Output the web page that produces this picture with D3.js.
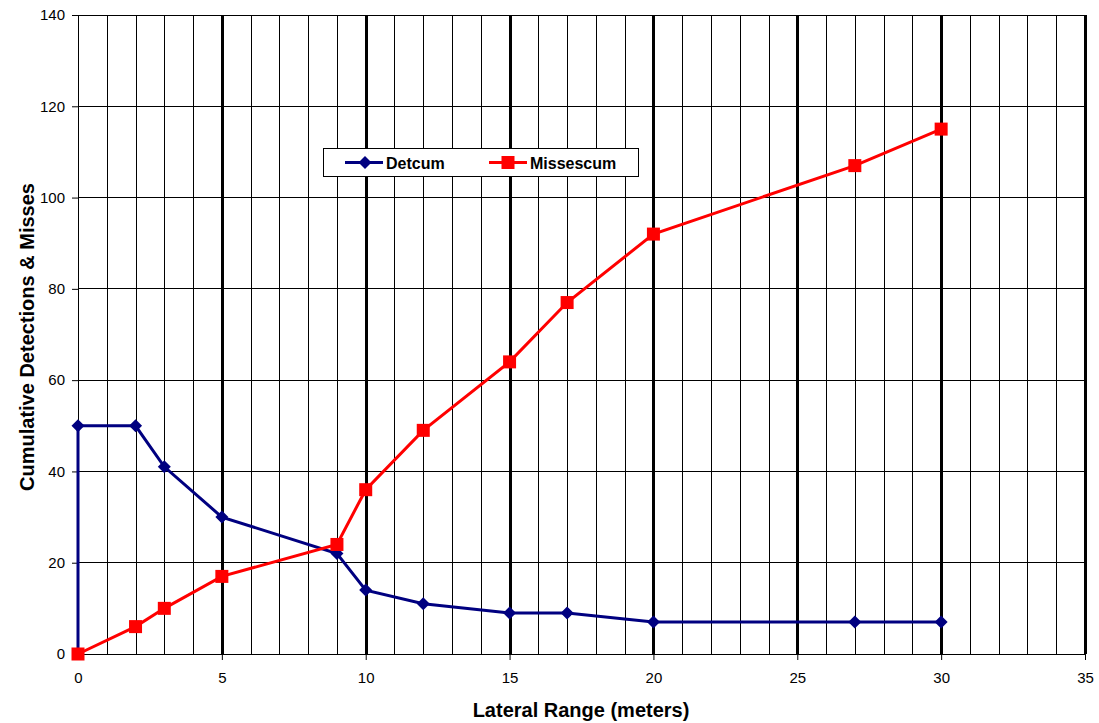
<!DOCTYPE html>
<html><head><meta charset="utf-8">
<script src="https://cdn.jsdelivr.net/npm/d3@7"></script>
<style>body{margin:0;background:#fff}svg{display:block}</style>
</head><body>
<svg id="c" width="1099" height="723"></svg>
<script>
const detX = [0, 0, 2, 3, 5, 9, 10, 12, 15, 17, 20, 27, 30];
const detY = [0, 50, 50, 41, 30, 22, 14, 11, 9, 9, 7, 7, 7];
const detMarker = [false, true, true, true, true, true, true, true, true, true, true, true, true];
const misX = [0, 2, 3, 5, 9, 10, 12, 15, 17, 20, 27, 30];
const misY = [0, 6, 10, 17, 24, 36, 49, 64, 77, 92, 107, 115];
const xTicks = [0, 5, 10, 15, 20, 25, 30, 35];
const yTicks = [0, 20, 40, 60, 80, 100, 120, 140];
const seriesNames = ["Detcum", "Missescum"];

const svg = d3.select("#c");
const L = 78, R = 1085, T = 15, B = 654;
const x = d3.scaleLinear().domain([0, 35]).range([L, R]);
const y = d3.scaleLinear().domain([0, 140]).range([B, T]);
const font = "Arial, 'Liberation Sans', sans-serif";

// horizontal gridlines
svg.append("g").selectAll("line").data(yTicks.filter(d => d > 0)).join("line")
  .attr("x1", L).attr("x2", R).attr("y1", d => y(d)).attr("y2", d => y(d))
  .attr("stroke", "#000").attr("stroke-width", 1).attr("shape-rendering", "crispEdges");
// vertical gridlines
svg.append("g").selectAll("line").data(d3.range(1, 36)).join("line")
  .attr("x1", d => Math.round(x(d)) + 0.5).attr("x2", d => Math.round(x(d)) + 0.5)
  .attr("y1", T).attr("y2", B)
  .attr("stroke", "#000").attr("stroke-width", d => d % 5 === 0 ? 3 : 1);

// axes
const xAxis = svg.append("g").attr("transform", `translate(0,${B})`)
  .call(d3.axisBottom(x).tickValues(xTicks).tickSize(6).tickPadding(12));
const yAxis = svg.append("g").attr("transform", `translate(${L},0)`)
  .call(d3.axisLeft(y).tickValues(yTicks).tickSize(6).tickPadding(7));
[xAxis, yAxis].forEach(a => {
  a.select(".domain").attr("stroke", "#000").attr("stroke-width", 1);
  a.selectAll(".tick line").attr("stroke", "#000");
  a.selectAll("text").attr("font-family", font).attr("font-size", 15).attr("fill", "#000");
});
xAxis.select(".domain").attr("d", `M${L},0.5H${R}`);
yAxis.select(".domain").attr("d", `M0.5,${B}V${T}`);

// axis titles
svg.append("text").attr("x", 581).attr("y", 717).attr("text-anchor", "middle")
  .attr("font-family", font).attr("font-weight", "bold").attr("font-size", 20)
  .text("Lateral Range (meters)");
svg.append("text").attr("transform", `translate(34,337) rotate(-90)`)
  .attr("text-anchor", "middle").attr("font-family", font).attr("font-weight", "bold").attr("font-size", 20)
  .text("Cumulative Detections & Misses");

const line = d3.line().x(d => x(d[0])).y(d => y(d[1]));
const det = detX.map((v, i) => [v, detY[i], detMarker[i]]);
const mis = misX.map((v, i) => [v, misY[i]]);
const blue = "#000080", red = "#ff0000";

svg.append("path").datum(det).attr("d", line).attr("fill", "none").attr("stroke", blue).attr("stroke-width", 3);
svg.append("path").datum(mis).attr("d", line).attr("fill", "none").attr("stroke", red).attr("stroke-width", 3);

const diamond = (cx, cy, s) => `M${cx},${cy - s}L${cx + s},${cy}L${cx},${cy + s}L${cx - s},${cy}Z`;
svg.append("g").selectAll("path").data(det.filter(d => d[2])).join("path")
  .attr("d", d => diamond(x(d[0]), y(d[1]), 6.5)).attr("fill", blue);
svg.append("g").selectAll("rect").data(mis).join("rect")
  .attr("x", d => x(d[0]) - 6.5).attr("y", d => y(d[1]) - 6.5).attr("width", 13).attr("height", 13).attr("fill", red);

// legend
const lg = svg.append("g");
lg.append("rect").attr("x", 323.5).attr("y", 148.5).attr("width", 315).attr("height", 28)
  .attr("fill", "#fff").attr("stroke", "#000").attr("stroke-width", 1);
const items = [{n: seriesNames[0], c: blue, x0: 345, m: "d"}, {n: seriesNames[1], c: red, x0: 489, m: "s"}];
items.forEach(it => {
  const cy = 162.5;
  lg.append("line").attr("x1", it.x0).attr("x2", it.x0 + 38).attr("y1", cy).attr("y2", cy).attr("stroke", it.c).attr("stroke-width", 3);
  if (it.m === "d") lg.append("path").attr("d", diamond(it.x0 + 20, cy, 6.5)).attr("fill", it.c);
  else lg.append("rect").attr("x", it.x0 + 19 - 6.5).attr("y", cy - 6.5).attr("width", 13).attr("height", 13).attr("fill", it.c);
  lg.append("text").attr("x", it.x0 + 41).attr("y", cy + 6).attr("font-family", font).attr("font-weight", "bold")
    .attr("font-size", 16).text(it.n);
});
</script>
</body></html>
